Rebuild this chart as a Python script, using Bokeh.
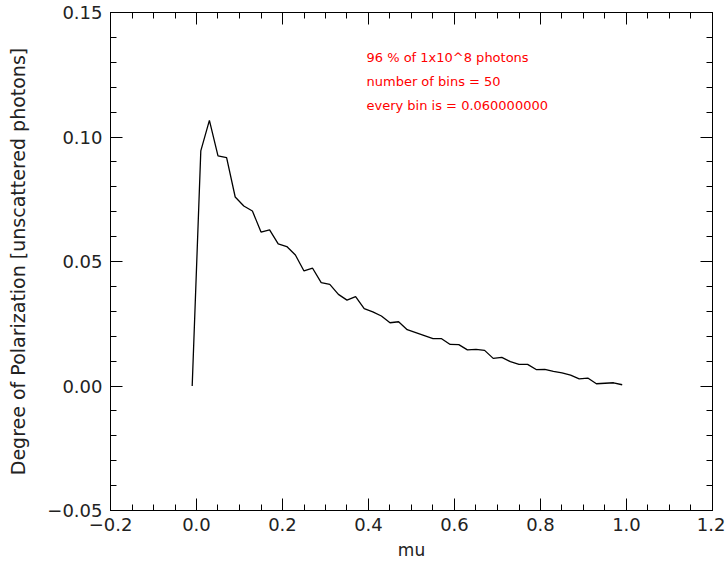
from bokeh.plotting import figure
from bokeh.models import Range1d, LinearAxis, SingleIntervalTicker, CustomJSTickFormatter, Label
from bokeh.embed import file_html
from bokeh.resources import INLINE

mu = [-0.01, 0.01, 0.03, 0.05, 0.07, 0.09, 0.11, 0.13, 0.15, 0.17,
      0.19, 0.21, 0.23, 0.25, 0.27, 0.29, 0.31, 0.33, 0.35, 0.37,
      0.39, 0.41, 0.43, 0.45, 0.47, 0.49, 0.51, 0.53, 0.55, 0.57,
      0.59, 0.61, 0.63, 0.65, 0.67, 0.69, 0.71, 0.73, 0.75, 0.77,
      0.79, 0.81, 0.83, 0.85, 0.87, 0.89, 0.91, 0.93, 0.95, 0.97,
      0.99]
pol = [0.0000, 0.0944, 0.1067, 0.0924, 0.0917, 0.0759, 0.0723, 0.0703, 0.0618, 0.0627,
       0.0571, 0.0560, 0.0526, 0.0462, 0.0473, 0.0415, 0.0408, 0.0368, 0.0345, 0.0359,
       0.0311, 0.0298, 0.0281, 0.0254, 0.0258, 0.0226, 0.0214, 0.0202, 0.0190, 0.0190,
       0.0167, 0.0166, 0.0145, 0.0147, 0.0143, 0.0111, 0.0115, 0.0098, 0.0087, 0.0087,
       0.0066, 0.0067, 0.0059, 0.0053, 0.0044, 0.0029, 0.0032, 0.0009, 0.0011, 0.0013,
       0.0005]

annotations = ["96 % of 1x10^8 photons", "number of bins = 50", "every bin is = 0.060000000"]

FONT = "DejaVu Sans"
TXT = "#222222"

p = figure(width=725, height=566, output_backend="svg", toolbar_location=None,
           x_range=Range1d(-0.2, 1.2000001), y_range=Range1d(-0.05, 0.1500001),
           x_axis_location=None, y_axis_location=None,
           min_border_left=110, min_border_right=13, min_border_top=12, min_border_bottom=56)
p.xgrid.visible = False
p.ygrid.visible = False
p.outline_line_color = "black"
p.outline_line_width = 1
p.background_fill_color = "white"
p.border_fill_color = "white"

xfmt = CustomJSTickFormatter(code="return (tick < -1e-9 ? '\u2212' : '') + Math.abs(tick).toFixed(1);")
yfmt = CustomJSTickFormatter(code="return (tick < -1e-9 ? '\u2212' : '') + Math.abs(tick).toFixed(2);")
blank = CustomJSTickFormatter(code="return '';")

def style(ax, show_labels):
    ax.axis_line_color = "black"
    ax.major_tick_in = 12
    ax.major_tick_out = 0
    ax.minor_tick_in = 6
    ax.minor_tick_out = 0
    ax.major_tick_line_color = "black"
    ax.minor_tick_line_color = "black"
    if show_labels:
        ax.major_label_text_font = FONT
        ax.major_label_text_font_size = "18px"
        ax.major_label_text_color = TXT
        ax.axis_label_text_font = FONT
        ax.axis_label_text_font_size = "17px"
        ax.axis_label_text_color = TXT
        ax.axis_label_text_font_style = "normal"
    else:
        ax.formatter = blank
        ax.major_label_standoff = 0

xb = LinearAxis(ticker=SingleIntervalTicker(interval=0.2, num_minor_ticks=4), formatter=xfmt, axis_label="mu")
style(xb, True)
xb.major_label_standoff = 7
xb.axis_label_standoff = 6
p.add_layout(xb, "below")

xt = LinearAxis(ticker=SingleIntervalTicker(interval=0.2, num_minor_ticks=4))
style(xt, False)
p.add_layout(xt, "above")

yl = LinearAxis(ticker=SingleIntervalTicker(interval=0.05, num_minor_ticks=5), formatter=yfmt,
                axis_label="Degree of Polarization [unscattered photons]")
style(yl, True)
yl.axis_label_text_font_size = "19px"
yl.major_label_standoff = 8
yl.axis_label_standoff = 15
p.add_layout(yl, "left")

yr = LinearAxis(ticker=SingleIntervalTicker(interval=0.05, num_minor_ticks=5))
style(yr, False)
p.add_layout(yr, "right")

p.line(mu, pol, line_color="black", line_width=1.3)

for i, t in enumerate(annotations):
    p.add_layout(Label(x=256, y=566 - 12 - 56 - 45 - 24 * i, x_units="screen", y_units="screen",
                       text=t, text_font=FONT, text_font_size="13px", text_color="#ff0000",
                       text_baseline="middle"))

open("out.html", "w").write(file_html(p, INLINE))
